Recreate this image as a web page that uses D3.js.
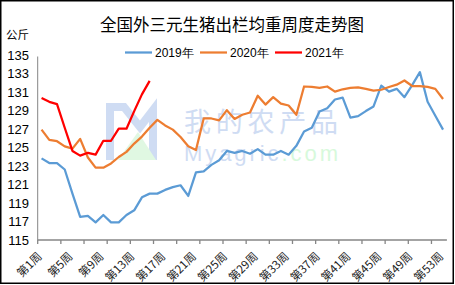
<!DOCTYPE html>
<html>
<head>
<meta charset="utf-8">
<script src="https://cdn.jsdelivr.net/npm/d3@7"></script>
<style>
  body { margin: 0; background: #fff; }
  svg { display: block; }
</style>
</head>
<body>
<svg id="chart"></svg>
<script>
// weekly average slaughter weight (kg)
const weeks = d3.range(1, 54);
const labelWeeks = [1, 5, 9, 13, 17, 21, 25, 29, 33, 37, 41, 45, 49, 53];
const yTicks = [115, 117, 119, 121, 123, 125, 127, 129, 131, 133, 135];

const y2019 = [123.8, 123.3, 123.3, 122.6, 120.0, 117.5, 117.6, 116.9, 117.7, 116.9,
  116.9, 117.7, 118.2, 119.6, 120.0, 120.0, 120.4, 120.7, 120.9, 119.75,
  122.3, 122.4, 123.1, 123.6, 124.6, 124.4, 124.6, 124.3, 124.8, 124.2,
  124.2, 124.6, 124.2, 125.15, 126.7, 127.1, 128.85, 129.2, 130.15, 130.35,
  128.2, 128.35, 128.9, 129.4, 131.65, 131.0, 131.3, 130.4, 131.7, 133.1,
  129.9, 128.4, 126.9];
const y2020 = [126.9, 125.8, 125.65, 125.1, 124.85, 125.9, 123.9, 122.8, 122.8, 123.25,
  123.95, 124.5, 125.4, 126.15, 127.1, 127.95, 127.35, 126.9, 126.1, 125.1,
  124.7, 128.1, 128.1, 127.9, 129.0, 128.05, 128.5, 128.75, 130.55, 129.6,
  130.4, 129.7, 129.5, 128.5, 131.55, 131.5, 131.4, 131.55, 131.0, 131.25,
  131.4, 131.45, 131.3, 131.1, 131.2, 131.5, 131.75, 132.2, 131.6, 131.6,
  131.5, 131.3, 130.2];
const y2021 = [130.3, 129.9, 129.65, 127.1, 124.6, 124.1, 124.4, 124.2, 125.7, 125.7,
  127.0, 127.0, 128.9, 130.7, 132.15];

const seriesNames = ["2019年", "2020年", "2021年"];
const seriesColors = ["#5b9bd5", "#ed7d31", "#ff0000"];
const seriesData = [y2019, y2020, y2021];

let width = 455;
let height = 285;
let plot = { left: 37.7, right: 446.9, top: 54.5, bottom: 240 };

let svg = d3.select("#chart")
  .attr("width", width)
  .attr("height", height);

// frame
svg.append("rect")
  .attr("x", 0.75).attr("y", 0.75)
  .attr("width", 452.5).attr("height", 282.5)
  .attr("fill", "#fff")
  .attr("stroke", "#000")
  .attr("stroke-width", 1.5);

let xScale = d3.scaleBand()
  .domain(weeks)
  .range([plot.left, plot.right])
  .paddingInner(0).paddingOuter(0);
let yScale = d3.scaleLinear()
  .domain([115, 135])
  .range([plot.bottom, plot.top]);

const cx = (w) => xScale(w) + xScale.bandwidth() / 2;

// watermark
let wm = svg.append("g").attr("opacity", 0.55);
wm.append("path")
  .attr("d", "M110,160 V107 H124 L140,127 L153,110 V160")
  .attr("fill", "none")
  .attr("stroke", "#a9c1ea")
  .attr("stroke-width", 8);
wm.append("path")
  .attr("d", "M118,160 L138,132 L156,160 Z")
  .attr("fill", "#c8f3cc");
wm.append("text")
  .attr("x", 184).attr("y", 132)
  .attr("font-family", "Noto Sans CJK SC")
  .attr("font-size", 27)
  .attr("fill", "#a9c1ea")
  .attr("textLength", 154)
  .text("我的农产品");
let wmt = wm.append("text")
  .attr("x", 184).attr("y", 161)
  .attr("font-family", "Liberation Sans")
  .attr("font-size", 22)
  .attr("textLength", 154);
wmt.append("tspan").attr("fill", "#a9c1ea").text("Myagric");
wmt.append("tspan").attr("fill", "#b8f5c0").text(".com");

// title
svg.append("text")
  .attr("x", 232).attr("y", 31)
  .attr("text-anchor", "middle")
  .attr("font-family", "Noto Sans CJK SC")
  .attr("font-size", 16.5)
  .attr("fill", "#000")
  .text("全国外三元生猪出栏均重周度走势图");

// unit
svg.append("text")
  .attr("x", 6).attr("y", 39)
  .attr("font-family", "Noto Sans CJK SC")
  .attr("font-size", 11.5)
  .attr("fill", "#000")
  .text("公斤");

// y axis labels
svg.append("g")
  .selectAll("text")
  .data(yTicks)
  .join("text")
  .attr("x", 29)
  .attr("y", (d) => yScale(d) + 5)
  .attr("text-anchor", "end")
  .attr("font-family", "Liberation Sans")
  .attr("font-size", 13)
  .attr("fill", "#000")
  .text((d) => d);

svg.append("line")
  .attr("x1", plot.left).attr("x2", plot.left)
  .attr("y1", plot.top + 2).attr("y2", plot.bottom)
  .attr("stroke", "#868686")
  .attr("stroke-width", 1);

// x axis
svg.append("line")
  .attr("x1", plot.left).attr("x2", plot.right)
  .attr("y1", plot.bottom).attr("y2", plot.bottom)
  .attr("stroke", "#868686")
  .attr("stroke-width", 1.3);

svg.append("g")
  .selectAll("line")
  .data(weeks.filter((w) => (w - 1) % 3 === 0))
  .join("line")
  .attr("x1", (w) => xScale(w)).attr("x2", (w) => xScale(w))
  .attr("y1", plot.bottom).attr("y2", plot.bottom + 4)
  .attr("stroke", "#868686")
  .attr("stroke-width", 1.3);

svg.append("g")
  .selectAll("text")
  .data(labelWeeks)
  .join("text")
  .attr("text-anchor", "end")
  .attr("transform", (w) => `translate(${cx(w) + 1},${plot.bottom + 17}) rotate(-45)`)
  .attr("font-family", "Noto Sans CJK SC")
  .attr("font-size", 11.5)
  .attr("fill", "#222")
  .text((w) => `第${w}周`);

// lines
let line = d3.line()
  .x((d, i) => cx(weeks[i]))
  .y((d) => yScale(d));

seriesData.forEach((data, i) => {
  svg.append("path")
    .datum(data)
    .attr("d", line)
    .attr("fill", "none")
    .attr("stroke", seriesColors[i])
    .attr("stroke-width", 2.25)
    .attr("stroke-linejoin", "round");
});

// legend
let legendX = [125, 200, 275];
let legend = svg.append("g");
seriesNames.forEach((name, i) => {
  legend.append("line")
    .attr("x1", legendX[i]).attr("x2", legendX[i] + 27)
    .attr("y1", 52.5).attr("y2", 52.5)
    .attr("stroke", seriesColors[i])
    .attr("stroke-width", 2.25);
  legend.append("text")
    .attr("x", legendX[i] + 30).attr("y", 57)
    .attr("font-family", "Liberation Sans")
    .attr("font-size", 12)
    .attr("fill", "#000")
    .text(name);
});
</script>
</body>
</html>
